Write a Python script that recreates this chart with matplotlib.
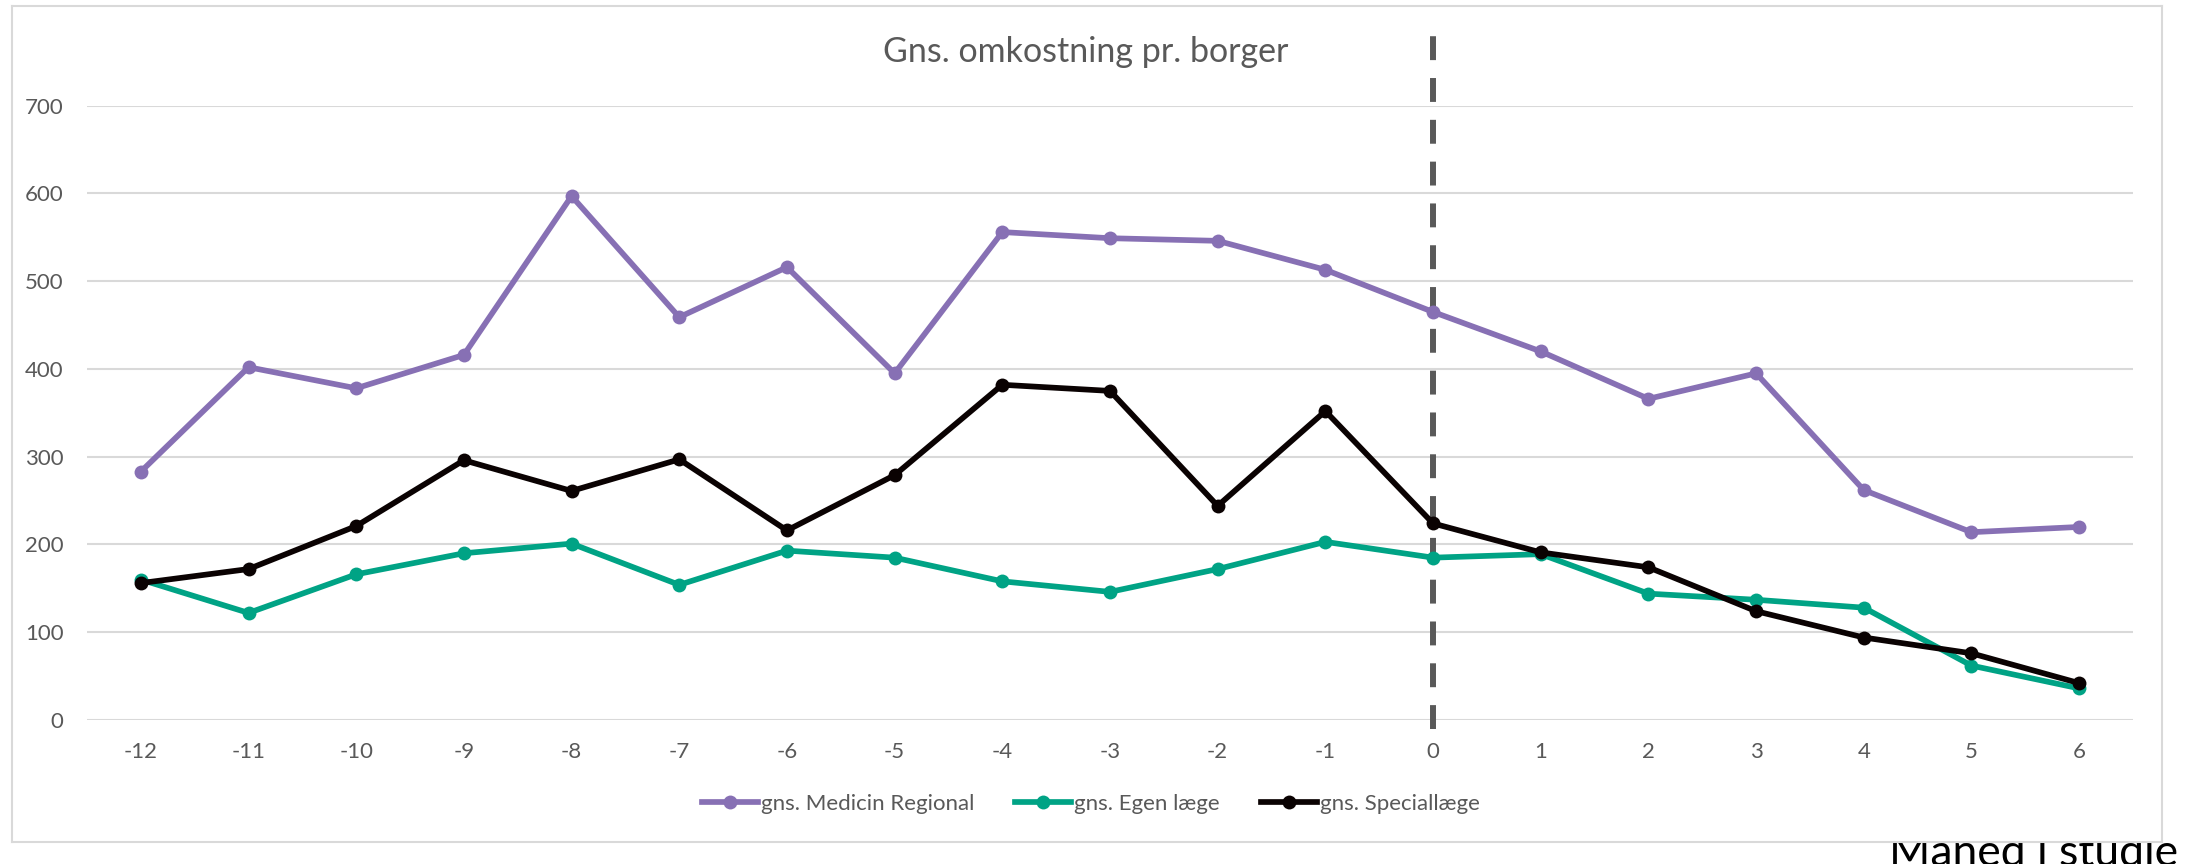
import numpy as np
import matplotlib
matplotlib.use("Agg")
import matplotlib.pyplot as plt

# maaned relativt til studiestart
months = [-12, -11, -10, -9, -8, -7, -6, -5, -4, -3, -2, -1, 0, 1, 2, 3, 4, 5, 6]

medicin_regional = [283, 402, 378, 416, 597, 459, 516, 395, 556, 549, 546, 513,
                    465, 420, 366, 395, 262, 214, 220]
egen_laege = [160, 122, 166, 190, 201, 154, 193, 185, 158, 146, 172, 203,
              185, 189, 144, 137, 128, 62, 36]
speciallaege = [156, 172, 221, 296, 261, 297, 216, 279, 382, 375, 244, 352,
                224, 191, 174, 124, 94, 76, 42]

series_names = ["gns. Medicin Regional", "gns. Egen læge", "gns. Speciallæge"]
series_colors = ["#8770B4", "#00A385", "#0A0202"]
y_ticks = [0, 100, 200, 300, 400, 500, 600, 700]

title = "Gns. omkostning pr. borger"
x_title = "Måned i studie"
divider_month = 0

W, H = 2206, 864
plt.rcParams['font.family'] = ['Lato', 'DejaVu Sans']
fig = plt.figure(figsize=(W / 100, H / 100), dpi=100)
fig.patch.set_facecolor("white")


def fx(px):
    return px / W


def fy(py):
    return (H - py) / H


# aksetitel, delvist skjult bag diagramomraadet
fig.text(fx(1889), fy(866), x_title, fontsize=32, color="black",
         ha="left", va="baseline", zorder=0)

# diagramomraade med graa ramme
bg = fig.add_axes([fx(12), fy(842), fx(2162) - fx(12), fy(6) - fy(842)], zorder=1)
bg.set_facecolor("white")
bg.set_xticks([])
bg.set_yticks([])
for s in bg.spines.values():
    s.set_color("#D9D9D9")
    s.set_linewidth(1.5)

ax = fig.add_axes([fx(87), fy(720), fx(2133) - fx(87), fy(105.7) - fy(720)], zorder=2)
ax.set_facecolor("none")
ax.set_xlim(-12.5, 6.5)
ax.set_ylim(0, 700)

ax.set_yticks(y_ticks)
ax.set_xticks(months)
ax.set_xticklabels([str(m) for m in months])
ax.grid(axis="y", color="#D9D9D9", linewidth=1.5)
ax.set_axisbelow(True)
for s in ax.spines.values():
    s.set_visible(False)
ax.tick_params(axis="both", length=0, labelsize=16, colors="#595959")
ax.tick_params(axis="y", pad=17)
ax.tick_params(axis="x", pad=16)

# lodret stiplet linje ved studiestart
ax.plot([divider_month, divider_month], [-10.6, 781], color="#595959",
        linewidth=4.3, linestyle=(0, (4, 3)), clip_on=False, zorder=2,
        solid_capstyle="butt", dash_capstyle="butt")

for vals, name, col in zip([medicin_regional, egen_laege, speciallaege],
                           series_names, series_colors):
    ax.plot(months, vals, color=col, linewidth=4.1, marker="o",
            markersize=10, markeredgewidth=0, label=name, zorder=3)

fig.text(fx(1086), fy(62.3), title, fontsize=24.5, color="#595959",
         ha="center", va="baseline", zorder=5)

handles, labels = ax.get_legend_handles_labels()
leg = fig.legend(handles, labels, loc="center", ncol=3, frameon=False,
                 bbox_to_anchor=(fx(1091), fy(804)), fontsize=16,
                 handlelength=2.5, handletextpad=0.15, columnspacing=1.85)
for t in leg.get_texts():
    t.set_color("#595959")
leg.set_zorder(5)

fig.savefig("out.png", dpi=100, facecolor="white")
